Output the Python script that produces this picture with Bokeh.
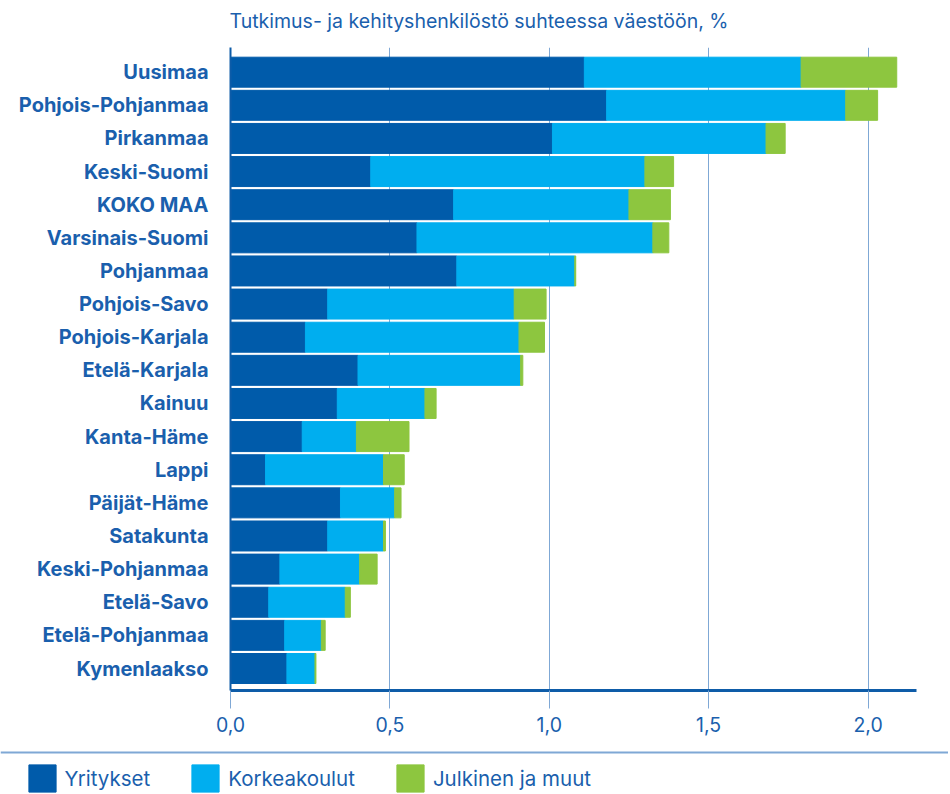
from bokeh.plotting import figure
from bokeh.models import (ColumnDataSource, Range1d, FixedTicker, Legend, LegendItem, Span, Label)
from bokeh.layouts import column
from bokeh.embed import file_html
from bokeh.resources import INLINE

regions = ["Uusimaa", "Pohjois-Pohjanmaa", "Pirkanmaa", "Keski-Suomi", "KOKO MAA",
           "Varsinais-Suomi", "Pohjanmaa", "Pohjois-Savo", "Pohjois-Karjala",
           "Etelä-Karjala", "Kainuu", "Kanta-Häme", "Lappi", "Päijät-Häme",
           "Satakunta", "Keski-Pohjanmaa", "Etelä-Savo", "Etelä-Pohjanmaa", "Kymenlaakso"]
yritykset = [1.11, 1.18, 1.01, 0.44, 0.70, 0.585, 0.71, 0.305, 0.235, 0.40,
             0.335, 0.225, 0.11, 0.345, 0.305, 0.155, 0.12, 0.17, 0.177]
korkeakoulut = [0.68, 0.75, 0.67, 0.86, 0.55, 0.74, 0.37, 0.585, 0.67, 0.51,
                0.275, 0.17, 0.37, 0.17, 0.175, 0.25, 0.24, 0.115, 0.088]
julkinen = [0.30, 0.10, 0.06, 0.09, 0.13, 0.05, 0.003, 0.10, 0.08, 0.007,
            0.035, 0.165, 0.065, 0.02, 0.006, 0.055, 0.016, 0.012, 0.003]
series_names = ["Yritykset", "Korkeakoulut", "Julkinen ja muut"]
x_ticks = [0.0, 0.5, 1.0, 1.5, 2.0]
x_tick_labels = ["0,0", "0,5", "1,0", "1,5", "2,0"]
title_text = "Tutkimus- ja kehityshenkilöstö suhteessa väestöön, %"

C_DARK = "#005BAA"
C_LIGHT = "#00AEEF"
C_GREEN = "#8DC63F"
C_TEXT = "#1A5FAD"
C_GRID = "#7FA8D5"
C_AXIS = "#0E5CA8"
FONT = "Inter"

W = 948
ys = list(range(len(regions)))
e1 = yritykset
e2 = [a + b for a, b in zip(yritykset, korkeakoulut)]
e3 = [a + b + c for a, b, c in zip(yritykset, korkeakoulut, julkinen)]
src = ColumnDataSource(dict(y=ys, s0=[0] * len(ys), e1=e1, e2=e2, e3=e3))
colors = [C_DARK, C_LIGHT, C_GREEN]
bounds = [("s0", "e1"), ("e1", "e2"), ("e2", "e3")]


def blank_strip(h):
    f = figure(width=W, height=h, output_backend="svg", toolbar_location=None,
               x_range=Range1d(100, 100 + W), y_range=Range1d(100, 100 + h),
               min_border=0, x_axis_type=None, y_axis_type=None)
    f.outline_line_color = None
    f.frame_align = False
    f.grid.visible = False
    return f


# title strip
H0 = 40
p0 = blank_strip(H0)
p0.add_layout(Label(x=100 + 229, y=100 + H0 - 20, text=title_text, text_font=FONT,
                    text_font_size="19.5px", text_color=C_TEXT, text_baseline="middle",
                    text_align="left"))

# main chart
p = figure(width=W, height=746 - H0, output_backend="svg", toolbar_location=None,
           x_range=Range1d(0, 2.152), y_range=Range1d(len(regions) - 1 + 0.664, -0.745),
           min_border_left=230, min_border_right=W - 916, min_border_top=47 - H0,
           min_border_bottom=56)
p.outline_line_color = None
p.frame_align = False

for (l, r), col in zip(bounds, colors):
    p.hbar(y="y", left=l, right=r, height=0.905, color=col, source=src)

p.ygrid.grid_line_color = None
p.xgrid.grid_line_color = C_GRID
p.xgrid.grid_line_width = 1
p.xgrid.ticker = FixedTicker(ticks=x_ticks)

xa = p.xaxis[0]
xa.ticker = FixedTicker(ticks=x_ticks)
xa.major_label_overrides = {t: l for t, l in zip(x_ticks, x_tick_labels)}
xa.axis_line_color = C_AXIS
xa.axis_line_width = 3
xa.major_tick_out = 18
xa.major_tick_in = 0
xa.major_tick_line_color = C_GRID
xa.minor_tick_line_color = None
xa.major_label_standoff = 8
xa.major_label_text_font = FONT
xa.major_label_text_font_size = "19.5px"
xa.major_label_text_color = C_TEXT

ya = p.yaxis[0]
ya.ticker = FixedTicker(ticks=ys)
ya.major_label_overrides = {i: n for i, n in zip(ys, regions)}
ya.axis_line_color = C_AXIS
ya.axis_line_width = 2
ya.major_tick_out = 0
ya.major_tick_in = 0
ya.minor_tick_line_color = None
ya.major_label_standoff = 22
ya.major_label_text_font = FONT
ya.major_label_text_font_size = "20px"
ya.major_label_text_font_style = "bold"
ya.major_label_text_color = C_TEXT

# legend strip (its bars lie outside its visible range; only the legend shows)
H2 = 48
p2 = blank_strip(H2)
p2.add_layout(Span(location=100 + H2 - 6, dimension="width", line_color=C_GRID, line_width=2))

items = []
for name, (l, r), col in zip(series_names, bounds, colors):
    rr = p2.hbar(y="y", left=l, right=r, height=0.905, color=col, source=src)
    items.append(LegendItem(label=name, renderers=[rr]))
legend = Legend(items=items, orientation="horizontal", location=(24.6, -1.4),
                glyph_width=34, glyph_height=34, label_standoff=6, spacing=38,
                padding=0, margin=0, border_line_color=None, background_fill_alpha=0,
                label_text_font=FONT, label_text_font_size="20.5px",
                label_text_color=C_TEXT)
p2.add_layout(legend)

layout = column(p0, p, p2, spacing=0)
open("out.html", "w").write(file_html(layout, INLINE))
